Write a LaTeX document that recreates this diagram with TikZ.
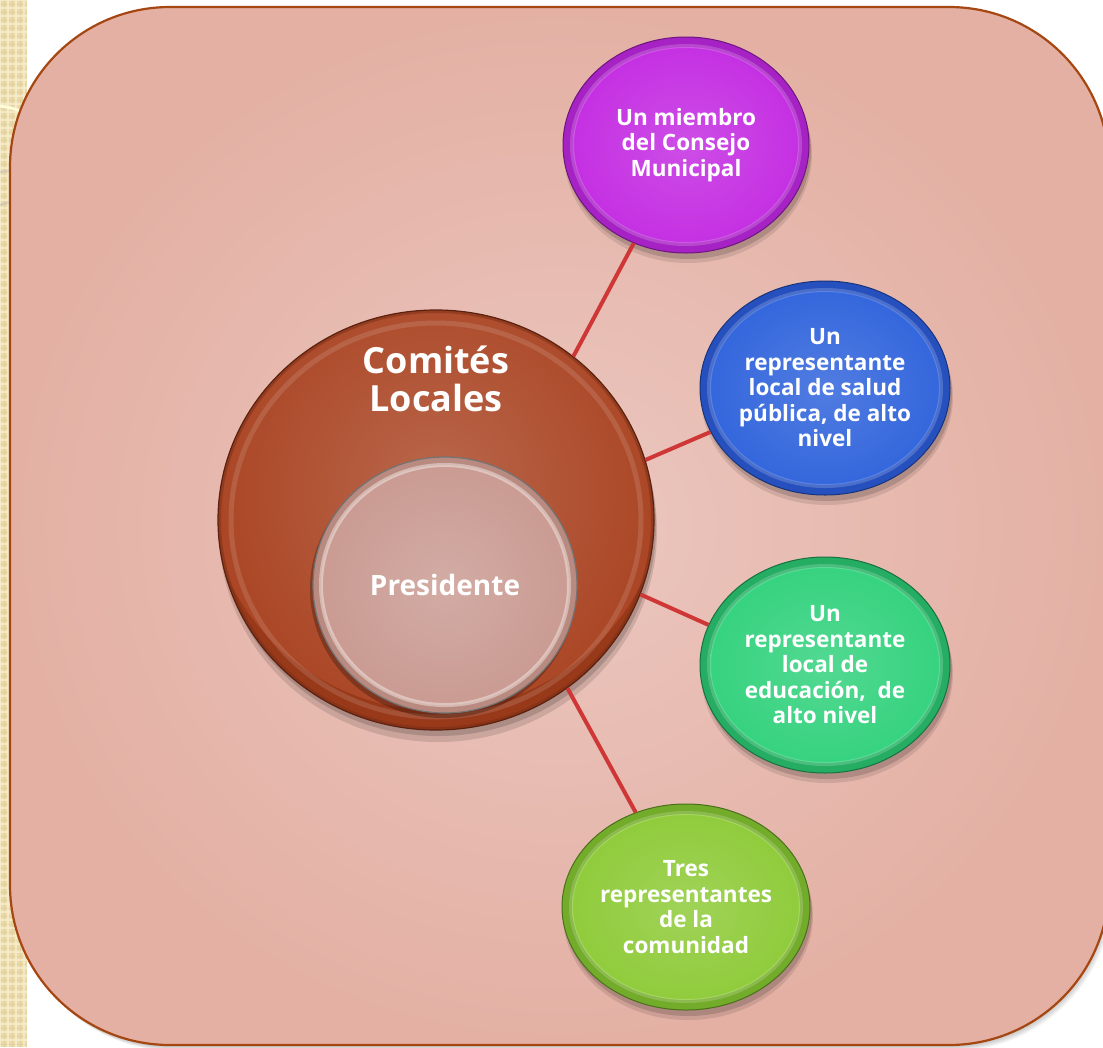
\documentclass[tikz,border=0pt]{standalone}
\usepackage{fontspec}
\setmainfont{Open Sans}
\usetikzlibrary{shapes.geometric}
\definecolor{strip}{HTML}{EBD9A8}
\definecolor{stripl}{HTML}{F6EBC9}
\definecolor{boxA}{HTML}{EBC7BF}
\definecolor{boxB}{HTML}{E4B0A4}
\definecolor{boxline}{HTML}{A64712}
\definecolor{linkc}{HTML}{CF3737}
\definecolor{purA}{HTML}{C42EE2}
\definecolor{purB}{HTML}{A722C4}
\definecolor{bluA}{HTML}{3265DC}
\definecolor{bluB}{HTML}{2550BE}
\definecolor{grnA}{HTML}{34D27E}
\definecolor{grnB}{HTML}{25AE63}
\definecolor{limA}{HTML}{8FCB3A}
\definecolor{limB}{HTML}{73AC2A}
\definecolor{brnA}{HTML}{AA4524}
\definecolor{brnB}{HTML}{98391A}
\definecolor{presA}{HTML}{C99A91}
\definecolor{presB}{HTML}{B98A80}

\tikzset{
  bubtext/.style={font=\bfseries\fontsize{22.5}{25.5}\selectfont, text=white, align=center},
  linkline/.style={draw=linkc, line width=4pt},
}

% #1 name, #2 x, #3 y, #4 rx, #5 ry, #6 main colour, #7 rim colour, #8 text
\newcommand\bubble[8]{%
  \fill[black,opacity=.10] (#2+2,#3+9) ellipse [x radius=#4pt+1pt, y radius=#5pt+1pt];
  \fill[black,opacity=.15] (#2+2,#3+6) ellipse [x radius=#4pt, y radius=#5pt];
  \node[ellipse, inner sep=0pt, minimum width=2*#4pt, minimum height=2*#5pt,
        fill=#7, draw=#7!65!black, line width=1pt, bubtext,
        path picture={
          \shade[inner color=#6!85!white, outer color=#6]
            (path picture bounding box.center) ellipse [x radius=#4pt-10pt, y radius=#5pt-10pt];
          \draw[white, opacity=.18, line width=4pt]
            (path picture bounding box.center) ellipse [x radius=#4pt-9pt, y radius=#5pt-9pt];
        }] (#1) at (#2,#3) {#8};
}

\begin{document}
\begin{tikzpicture}[x=1pt,y=-1pt]
\useasboundingbox (0,0) rectangle (1103,1047);
\fill[white] (0,0) rectangle (1103,1047);

% left decorative strip
\begin{scope}
  \clip (0,0) rectangle (27,1047);
  \fill[strip] (0,0) rectangle (27,1047);
  \draw[stripl, line width=2pt, step=8pt] (0,0) grid (27,1047);
  \draw[strip!80!black, opacity=.18, line width=.8pt, step=8pt, xshift=4pt, yshift=4pt] (-8,-8) grid (35,1055);
  \draw[white!85!yellow, line width=3pt] (0,106) .. controls (12,108) .. (27,113);
  \draw[black!25, opacity=.5, line width=2pt] (0,172) .. controls (12,170) .. (27,168);
  \draw[black!25, opacity=.5, line width=2pt] (0,205) .. controls (12,201) .. (27,198);
\end{scope}

% shadow of the panel
\foreach \i in {1,...,5}{
  \fill[black, opacity=.045, rounded corners=160pt] (10+\i,7+\i+1) rectangle (1108+\i,1045+\i+1);
}
% panel
\shadedraw[draw=boxline, line width=2.2pt, inner color=boxA, outer color=boxB, rounded corners=160pt]
  (10,7) rectangle (1109,1045);

% big circle
\fill[black,opacity=.12] (438,531) ellipse [x radius=219pt, y radius=211pt];
\fill[black,opacity=.15] (438,526) ellipse [x radius=218pt, y radius=210pt];
\node[ellipse, inner sep=0pt, minimum width=436pt, minimum height=420pt,
      fill=brnB, draw=brnB!60!black, line width=1.2pt,
      path picture={
        \shade[inner color=brnA!82!white, outer color=brnA]
          ([yshift=40pt]path picture bounding box.center) ellipse [x radius=230pt, y radius=230pt];
        \draw[white, opacity=.12, line width=5pt]
          (path picture bounding box.center) ellipse [x radius=205pt, y radius=197pt];
        \draw[brnB!80!black, opacity=.5, line width=6pt]
          (path picture bounding box.center) ellipse [x radius=218pt, y radius=210pt];
      }] (big) at (436,520) {};
\node[font=\bfseries\fontsize{36}{38}\selectfont, text=white, align=center] (title) at (436,379) {Comités\\Locales};

% inner circle
\fill[black,opacity=.25] (443,589) ellipse [x radius=133pt, y radius=129pt];
\node[ellipse, inner sep=0pt, minimum width=264pt, minimum height=256pt,
      fill=presB, draw=black!55, line width=1.2pt,
      font=\bfseries\fontsize{28}{30}\selectfont, text=white,
      path picture={
        \shade[inner color=presA!82!white, outer color=presA]
          (path picture bounding box.center) ellipse [x radius=124pt, y radius=120pt];
        \draw[white, opacity=.4, line width=4pt]
          (path picture bounding box.center) ellipse [x radius=124pt, y radius=120pt];
      }] (pres) at (445,585) {Presidente};

% satellites
\bubble{pur}{686}{145}{123}{108}{purA}{purB}{Un miembro\\del Consejo\\Municipal}
\bubble{blu}{825}{388}{125}{107}{bluA}{bluB}{Un\\representante\\local de salud\\pública, de alto\\nivel}
\bubble{grn}{825}{665}{125}{108}{grnA}{grnB}{Un\\representante\\local de\\educación,~ de\\alto nivel}
\bubble{lim}{686}{907}{124}{103}{limA}{limB}{Tres\\representantes\\de la\\comunidad}

% connectors
\draw[linkline] (big.50) -- (pur.242);
\draw[linkline] (big.16) -- (blu.201);
\draw[linkline] (big.340) -- (grn.161);
\draw[linkline] (big.308) -- (lim.118);
\end{tikzpicture}
\end{document}
